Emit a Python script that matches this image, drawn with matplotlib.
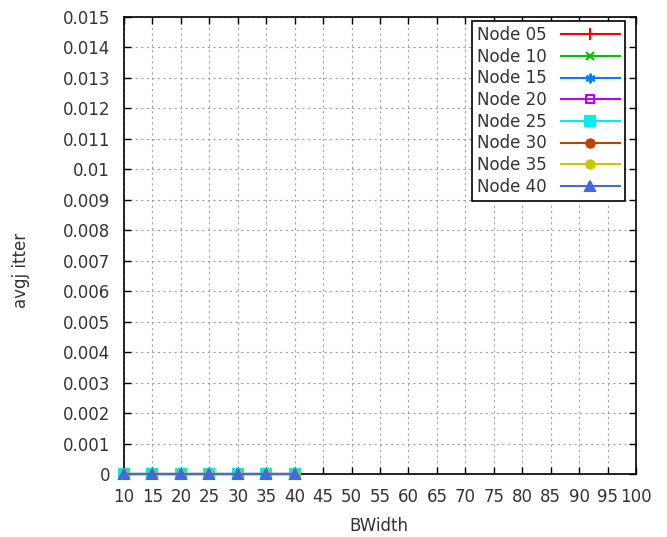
import matplotlib
matplotlib.use("Agg")
import matplotlib.pyplot as plt

# bandwidth values and average jitter per node count
bwidth = [10, 15, 20, 25, 30, 35, 40]
jitter = {
    "Node 05": [0, 0, 0, 0, 0, 0, 0],
    "Node 10": [0, 0, 0, 0, 0, 0, 0],
    "Node 15": [0, 0, 0, 0, 0, 0, 0],
    "Node 20": [0, 0, 0, 0, 0, 0, 0],
    "Node 25": [0, 0, 0, 0, 0, 0, 0],
    "Node 30": [0, 0, 0, 0, 0, 0, 0],
    "Node 35": [0, 0, 0, 0, 0, 0, 0],
    "Node 40": [0, 0, 0, 0, 0, 0, 0],
}
xticks = list(range(10, 101, 5))
yticks = [i / 1000 for i in range(0, 16)]

colors = ["#ff0000", "#00c000", "#0080ff", "#c000ff",
          "#00eeee", "#c04000", "#c8c800", "#4169e1"]
markers = ["+", "x", (6, 2, 0), "s", "s", "o", "o", "^"]
filled = [True, True, True, False, True, True, True, True]
msizes = [9, 6, 7, 6, 7, 6, 6, 7]

plt.rcParams["font.family"] = "DejaVu Sans"
fig = plt.figure(figsize=(6.67, 5.37), dpi=100)
ax = fig.add_axes([0.1859, 0.1173, 0.7676, 0.851])

for (name, vals), c, m, f, ms in zip(jitter.items(), colors, markers, filled, msizes):
    ax.plot(bwidth, vals, color=c, marker=m, markersize=ms, linewidth=1.5,
            markerfacecolor=c if f else "none", markeredgecolor=c,
            markeredgewidth=1.5, label=name, clip_on=False, zorder=3)

ax.set_xlim(10, 100)
ax.set_ylim(0, 0.015)
ax.set_xticks(xticks)
ax.set_yticks(yticks)
ax.set_xticklabels([str(x) for x in xticks])
ax.set_yticklabels(["%g" % y for y in yticks])
ax.tick_params(direction="in", top=True, right=True, labelsize=12,
               length=5, width=1, colors="black", labelcolor="#333333", pad=10)
ax.grid(True, color="#a0a0a0", linestyle=(0, (2, 3)), linewidth=0.8)
for s in ax.spines.values():
    s.set_linewidth(1.2)

ax.set_xlabel("BWidth", fontsize=12, color="#333333")
ax.xaxis.set_label_coords(0.497, -0.114)
ax.xaxis.label.set_va("center")
ax.set_ylabel("avgj itter", fontsize=12, color="#333333")
ax.yaxis.set_label_coords(-0.201, 0.446)
ax.yaxis.label.set_va("center")

leg = ax.legend(loc="upper right", bbox_to_anchor=(0.9785, 0.9912),
                markerfirst=False, fontsize=12, handlelength=3.55,
                labelspacing=0.22, borderpad=0.3, handletextpad=0.85,
                fancybox=False, framealpha=1, edgecolor="black",
                borderaxespad=0)
leg.get_frame().set_linewidth(1.2)
for t in leg.get_texts():
    t.set_color("#333333")

fig.savefig("out.png", dpi=100)
